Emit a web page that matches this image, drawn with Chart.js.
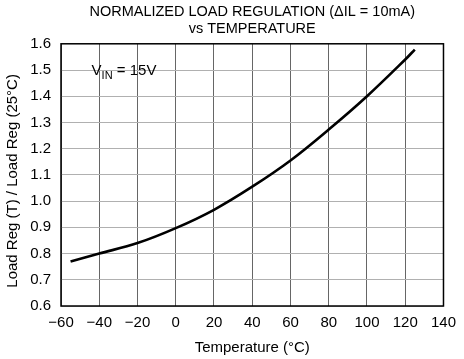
<!DOCTYPE html>
<html>
<head>
<meta charset="utf-8">
<script src="https://cdn.jsdelivr.net/npm/chart.js@4.4.0/dist/chart.umd.min.js"></script>
<style>
  html, body { margin: 0; padding: 0; background: #fff; }
  #wrap { width: 464px; height: 359px; }
</style>
</head>
<body>
<div id="wrap"><canvas id="loadRegChart" width="464" height="359"></canvas></div>
<script>
// temperature (°C) and normalized load regulation
const temps = [-55, -40, -20, 0, 20, 40, 60, 80, 100, 120, 125];
const loadReg = [0.77, 0.80, 0.84, 0.897, 0.967, 1.055, 1.155, 1.273, 1.40, 1.54, 1.578];
const xTicks = [-60, -40, -20, 0, 20, 40, 60, 80, 100, 120, 140];
const yTicks = [0.6, 0.7, 0.8, 0.9, 1.0, 1.1, 1.2, 1.3, 1.4, 1.5, 1.6];

const fontFamily = "'Liberation Sans', Arial, Helvetica, sans-serif";

// black frame round the plot, the VIN label and the y axis title
const framePlugin = {
  id: "frame",
  afterDraw(chart) {
    const { ctx, chartArea: a, scales } = chart;
    ctx.save();
    ctx.strokeStyle = "#000";
    ctx.lineWidth = 1.5;
    ctx.strokeRect(a.left, a.top, a.right - a.left, a.bottom - a.top);

    const x = scales.x.getPixelForValue(-44);
    const y = scales.y.getPixelForValue(1.5);
    ctx.fillStyle = "#000";
    ctx.textBaseline = "alphabetic";
    ctx.font = `15px ${fontFamily}`;
    ctx.fillText("V", x, y + 5);
    const vw = ctx.measureText("V").width;
    ctx.font = `11px ${fontFamily}`;
    ctx.fillText("IN", x + vw, y + 9);
    const iw = ctx.measureText("IN").width;
    ctx.font = `15px ${fontFamily}`;
    ctx.fillText(" = 15V", x + vw + iw, y + 5);

    // y title sits a little below the plot centre in the original
    ctx.translate(13, (a.top + a.bottom) / 2 + 6);
    ctx.rotate(-Math.PI / 2);
    ctx.textAlign = "center";
    ctx.textBaseline = "middle";
    ctx.fillText("Load Reg (T) / Load Reg (25\u00B0C)", 0, 0);
    ctx.restore();
  },
};

new Chart(document.getElementById("loadRegChart"), {
  type: "line",
  data: {
    datasets: [
      {
        data: temps.map((t, i) => ({ x: t, y: loadReg[i] })),
        borderColor: "#000",
        borderWidth: 2.6,
        pointRadius: 0,
        tension: 0.35,
        fill: false,
      },
    ],
  },
  options: {
    responsive: false,
    animation: false,
    layout: { padding: { left: 3, right: 14, top: 3, bottom: 2 } },
    plugins: {
      legend: { display: false },
      tooltip: { enabled: false },
      title: {
        display: true,
        fullSize: false,
        text: ["NORMALIZED LOAD REGULATION (\u0394IL = 10mA)", "vs TEMPERATURE"],
        color: "#000",
        font: { family: fontFamily, size: 14.5, weight: "normal", lineHeight: 1.2 },
        padding: { top: 0, bottom: 6 },
      },
    },
    scales: {
      x: {
        type: "linear",
        min: -60,
        max: 140,
        afterBuildTicks(axis) {
          axis.ticks = xTicks.map((v) => ({ value: v }));
        },
        afterFit(axis) {
          axis.height = 51;
        },
        grid: { color: "#666", lineWidth: 1, drawTicks: false },
        border: { display: false },
        ticks: {
          color: "#000",
          padding: 8,
          font: { family: fontFamily, size: 15 },
          callback: (v) => (v < 0 ? "\u2212" + Math.abs(v) : String(v)),
        },
        title: {
          display: true,
          text: "Temperature (\u00B0C)",
          color: "#000",
          font: { family: fontFamily, size: 15 },
          padding: { top: 2, bottom: 0 },
        },
      },
      y: {
        min: 0.6,
        max: 1.6,
        afterBuildTicks(axis) {
          axis.ticks = yTicks.map((v) => ({ value: v }));
        },
        afterFit(axis) {
          axis.width = 58;
        },
        grid: { color: "#b0b0b0", lineWidth: 1, borderDash: [4, 4], drawTicks: false },
        border: { display: false },
        ticks: {
          color: "#000",
          padding: 10,
          font: { family: fontFamily, size: 15 },
          callback: (v) => v.toFixed(1),
        },
        title: { display: false },
      },
    },
  },
  plugins: [framePlugin],
});
</script>
</body>
</html>
